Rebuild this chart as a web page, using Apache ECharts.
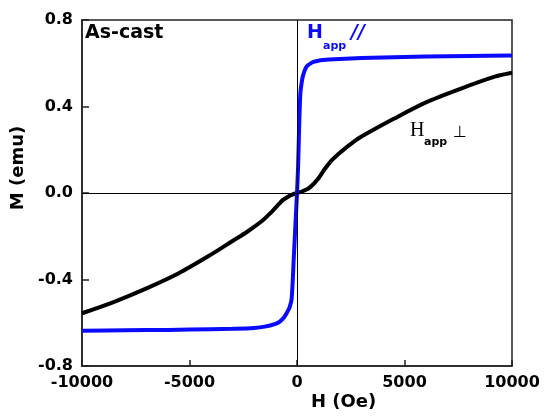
<!DOCTYPE html>
<html><head><meta charset="utf-8">
<script src="https://cdn.jsdelivr.net/npm/echarts@6/dist/echarts.min.js"></script>
<style>html,body{margin:0;padding:0;background:#fff}#c{width:544px;height:419px}</style>
</head><body><div id="c"></div>
<script>
// Data
const perpH = [-10000,-8500,-7000,-5500,-4000,-3000,-2300,-1600,-1300,-1100,-850,-650,-400,-250,0,250,550,800,1000,1300,1600,1900,2200,2600,3000,4500,6000,7600,9200,10000];
const perpM = [-0.556,-0.503,-0.441,-0.371,-0.285,-0.222,-0.178,-0.127,-0.099,-0.079,-0.052,-0.032,-0.016,-0.009,0,0.008,0.022,0.045,0.068,0.112,0.150,0.178,0.203,0.234,0.261,0.343,0.419,0.482,0.538,0.556];
const parH = [-10000,-8000,-6000,-4000,-3000,-2000,-1500,-1000,-800,-600,-450,-350,-250,-150,-50,0,50,150,250,350,450,600,800,1000,1500,2000,3000,4000,6000,8000,10000];
const parM = [-0.637,-0.635,-0.633,-0.630,-0.628,-0.624,-0.618,-0.605,-0.595,-0.575,-0.55,-0.53,-0.49,-0.30,-0.10,0.0,0.12,0.45,0.53,0.565,0.585,0.597,0.607,0.612,0.617,0.620,0.624,0.627,0.631,0.634,0.636];
const xTicks = [-10000,-5000,0,5000,10000];
const yTicks = [-0.8,-0.4,0.0,0.4,0.8];

const chart = echarts.init(document.getElementById('c'));
const zip = (a,b)=>a.map((v,i)=>[v,b[i]]);
const F = 'DejaVu Sans';
chart.setOption({
  animation:false,
  grid:{left:82,right:32,top:20,bottom:53,show:true,borderColor:'#222',borderWidth:1.5},
  xAxis:{type:'value',min:xTicks[0],max:xTicks[xTicks.length-1],interval:5000,
    axisLine:{show:true,onZero:false,lineStyle:{color:'#222',width:1.5}},
    axisTick:{show:true,inside:true,length:6,lineStyle:{color:'#222',width:1.5}},
    splitLine:{show:false},
    axisLabel:{color:'#000',fontFamily:F,fontWeight:'bold',fontSize:16,margin:9,
      formatter:v=>String(v)}},
  yAxis:{type:'value',min:yTicks[0],max:yTicks[yTicks.length-1],interval:0.4,
    name:'M (emu)',nameLocation:'middle',nameRotate:90,nameGap:53,
    nameTextStyle:{color:'#000',fontFamily:F,fontWeight:'bold',fontSize:18,padding:[0,0,0,50]},
    axisLine:{show:true,onZero:false,lineStyle:{color:'#222',width:1.5}},
    axisTick:{show:true,inside:true,length:7,lineStyle:{color:'#222',width:1.5}},
    splitLine:{show:false},
    axisLabel:{color:'#000',fontFamily:F,fontWeight:'bold',fontSize:16,margin:9,
      formatter:v=>v.toFixed(1)}},
  series:[
    {type:'line',data:[],z:1,silent:true,
      markLine:{silent:true,symbol:['none','none'],label:{show:false},
        lineStyle:{color:'#000',width:1,type:'solid'},
        data:[{yAxis:0},{xAxis:0}]}},
    {type:'line',data:zip(perpH,perpM),showSymbol:false,smooth:0.3,z:2,
      lineStyle:{color:'#000',width:4}},
    {type:'line',data:zip(parH,parM),showSymbol:false,smooth:0.3,z:3,
      lineStyle:{color:'#0a0aff',width:4}}
  ],
  graphic:[
    {type:'text',left:85,top:24,style:{text:'As-cast',font:'bold 19px "DejaVu Sans"',fill:'#000'}},
    {type:'text',left:307,top:24,style:{text:'H',font:'bold 19px "DejaVu Sans"',fill:'#0a0aff'}},
    {type:'text',left:323,top:41,style:{text:'app',font:'bold 11px "DejaVu Sans"',fill:'#0a0aff'}},
    {type:'text',left:351,top:24,style:{text:'//',font:'italic bold 19px "DejaVu Sans"',fill:'#0a0aff'}},
    {type:'text',left:410,top:121,style:{text:'H',font:'20px "Liberation Serif"',fill:'#000'}},
    {type:'text',left:424,top:137,style:{text:'app',font:'bold 11px "DejaVu Sans"',fill:'#000'}},
    {type:'text',left:453,top:125,style:{text:'⊥',font:'16px "DejaVu Sans"',fill:'#000'}},
    {type:'text',left:311,top:393,style:{text:'H (Oe)',font:'bold 18px "DejaVu Sans"',fill:'#000'}}
  ]
});
</script></body></html>
